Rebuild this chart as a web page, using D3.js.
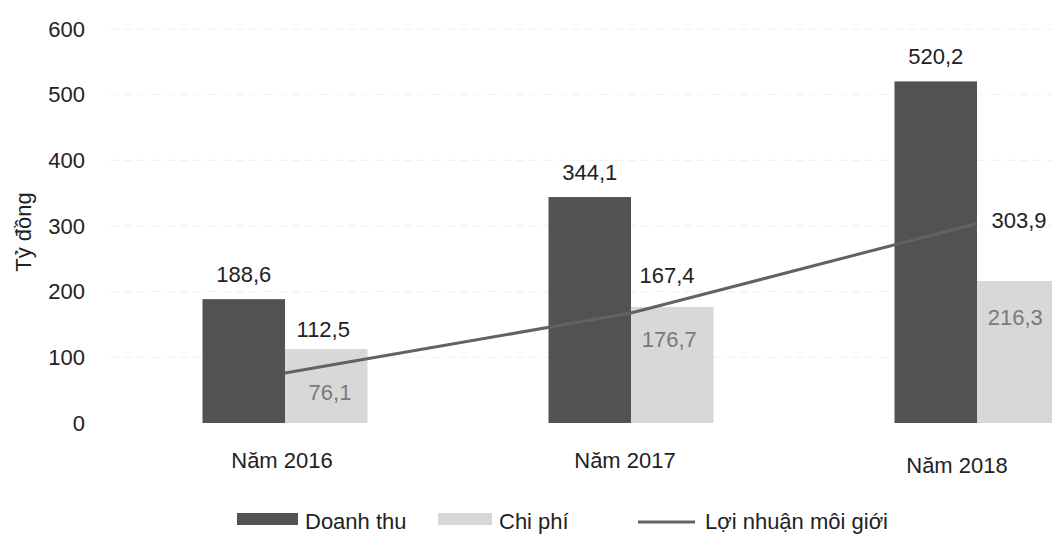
<!DOCTYPE html>
<html>
<head>
<meta charset="utf-8">
<script src="https://cdn.jsdelivr.net/npm/d3@7"></script>
<style>
  body { margin: 0; background: #fff; }
  svg { font-family: "Liberation Sans", Arial, sans-serif; }
</style>
</head>
<body>
<svg width="1052" height="536"></svg>
<script>
const years = ["Năm 2016", "Năm 2017", "Năm 2018"];
const doanhThu = [188.6, 344.1, 520.2];
const chiPhi = [112.5, 176.7, 216.3];
const loiNhuan = [76.1, 167.4, 303.9];
const yTicks = [0, 100, 200, 300, 400, 500, 600];
const legendNames = ["Doanh thu", "Chi phí", "Lợi nhuận môi giới"];

// hand placed label offsets, like the original
const chiOff = [-12, 40, 44];
const lnOff = [27, -30, 5];
const lnDx = [45, 36, 42];

const svg = d3.select("svg");
const dark = "#525252", light = "#d8d8d8", lineCol = "#626262";
const fs = 22;

const y = d3.scaleLinear().domain([0, 600]).range([423, 29]);
const x = d3.scaleBand().domain(years).range([112, 1150]).padding(0);
const groupW = 165;
const sub = d3.scaleBand().domain(["dt", "cp"]).range([-groupW / 2, groupW / 2]);

// faint grid
svg.append("g")
  .selectAll("line")
  .data(yTicks.slice(1))
  .join("line")
  .attr("x1", 110).attr("x2", 1052)
  .attr("y1", d => y(d)).attr("y2", d => y(d))
  .attr("stroke", "#eeeeee")
  .attr("stroke-dasharray", "8,6");

// y axis (labels only)
const yAxis = svg.append("g")
  .attr("transform", "translate(85,0)")
  .call(d3.axisLeft(y).tickValues(yTicks).tickSize(0).tickPadding(0));
yAxis.select(".domain").remove();
yAxis.selectAll("text").attr("font-size", fs).attr("fill", "#222")
  .attr("font-family", "Liberation Sans, Arial, sans-serif");

svg.append("text")
  .attr("transform", "translate(31,232) rotate(-90)")
  .attr("text-anchor", "middle")
  .attr("font-size", fs).attr("fill", "#222")
  .text("Tỷ đồng");

// x labels
const xAxis = svg.append("g")
  .attr("transform", "translate(0,468)")
  .call(d3.axisBottom(x).tickSize(0).tickPadding(0));
xAxis.select(".domain").remove();
xAxis.selectAll("text").attr("font-size", fs).attr("fill", "#222")
  .attr("font-family", "Liberation Sans, Arial, sans-serif")
  .attr("dx", (d, i) => i === 0 ? -3 : (i === 2 ? -20 : -6))
  .attr("dy", (d, i) => i === 2 ? 5 : 0);

const cx = d => x(d) + x.bandwidth() / 2;

// bars
svg.append("g").selectAll("rect")
  .data(years)
  .join("rect")
  .attr("x", d => cx(d) + sub("dt"))
  .attr("y", (d, i) => y(doanhThu[i]))
  .attr("width", sub.bandwidth())
  .attr("height", (d, i) => y(0) - y(doanhThu[i]))
  .attr("fill", dark);

svg.append("g").selectAll("rect")
  .data(years)
  .join("rect")
  .attr("x", d => cx(d) + sub("cp"))
  .attr("y", (d, i) => y(chiPhi[i]))
  .attr("width", sub.bandwidth())
  .attr("height", (d, i) => y(0) - y(chiPhi[i]))
  .attr("fill", light);

// line
const line = d3.line()
  .x((d, i) => cx(years[i]))
  .y(d => y(d));
svg.append("path")
  .datum(loiNhuan)
  .attr("d", line)
  .attr("fill", "none")
  .attr("stroke", lineCol)
  .attr("stroke-width", 3);

const fmt = v => v.toFixed(1).replace(".", ",");

// value labels
svg.append("g").selectAll("text")
  .data(years)
  .join("text")
  .attr("x", d => cx(d) + sub("dt") + sub.bandwidth() / 2)
  .attr("y", (d, i) => y(doanhThu[i]) - 17)
  .attr("text-anchor", "middle")
  .attr("font-size", fs).attr("fill", "#222")
  .text((d, i) => fmt(doanhThu[i]));

svg.append("g").selectAll("text")
  .data(years)
  .join("text")
  .attr("x", d => cx(d) + sub("cp") + sub.bandwidth() / 2 - 3)
  .attr("y", (d, i) => y(chiPhi[i]) + chiOff[i])
  .attr("text-anchor", "middle")
  .attr("font-size", fs)
  .attr("fill", (d, i) => i === 0 ? "#222" : "#7a7a7a")
  .text((d, i) => fmt(chiPhi[i]));

svg.append("g").selectAll("text")
  .data(years)
  .join("text")
  .attr("x", (d, i) => cx(d) + lnDx[i])
  .attr("y", (d, i) => y(loiNhuan[i]) + lnOff[i])
  .attr("text-anchor", "middle")
  .attr("font-size", fs)
  .attr("fill", (d, i) => i === 0 ? "#7a7a7a" : "#222")
  .text((d, i) => fmt(loiNhuan[i]));

// legend
const leg = svg.append("g").attr("transform", "translate(0,529)");
const legX = [237, 438, 638];
const swW = [61, 54, 57];
legendNames.forEach((name, i) => {
  const g = leg.append("g").attr("transform", `translate(${legX[i]},0)`);
  if (i < 2) {
    g.append("rect").attr("x", 0).attr("y", -16).attr("width", swW[i]).attr("height", 12)
      .attr("fill", i === 0 ? dark : light);
  } else {
    g.append("line").attr("x1", 0).attr("x2", swW[i]).attr("y1", -7).attr("y2", -7)
      .attr("stroke", lineCol).attr("stroke-width", 3);
  }
  g.append("text")
    .attr("x", swW[i] + (i === 2 ? 10 : 7))
    .attr("y", 0)
    .attr("font-size", fs).attr("fill", "#222")
    .text(name);
});
</script>
</body>
</html>
